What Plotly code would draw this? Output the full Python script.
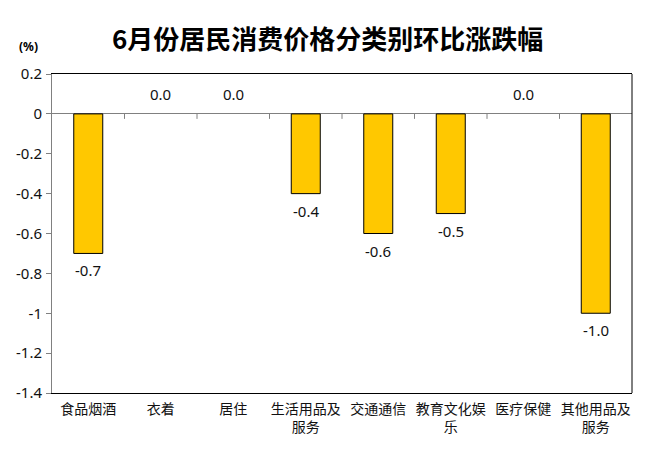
import plotly.graph_objects as go

categories = ["食品烟酒", "衣着", "居住", "生活用品及<br>服务", "交通通信", "教育文化娱<br>乐", "医疗保健", "其他用品及<br>服务"]
values = [-0.7, 0.0, 0.0, -0.4, -0.6, -0.5, 0.0, -1.0]
ytick_vals = [0.2, 0, -0.2, -0.4, -0.6, -0.8, -1.0, -1.2, -1.4]
ytick_text = ["0.2", "0", "-0.2", "-0.4", "-0.6", "-0.8", "-1", "-1.2", "-1.4"]
title_text = "6月份居民消费价格分类别环比涨跌幅"
unit_text = "(%)"

num_font = "Noto Sans, Lato, sans-serif"
cjk_font = "Noto Sans CJK SC"

fig = go.Figure()
fig.add_trace(go.Bar(
    x=list(range(len(categories))), y=values,
    marker=dict(color="#FFC800",
                line=dict(color="#000000", width=[1 if v != 0 else 0 for v in values])),
    hoverinfo="skip",
))

annotations = []
for i, v in enumerate(values):
    if v < 0:
        annotations.append(dict(x=i, y=v, xref="x", yref="y", text=f"{v:.1f}",
                                showarrow=False, yanchor="top", yshift=-5,
                                font=dict(family=num_font, size=15, color="#111")))
    else:
        annotations.append(dict(x=i, y=v, xref="x", yref="y", text=f"{v:.1f}",
                                showarrow=False, yanchor="bottom", yshift=8,
                                font=dict(family=num_font, size=15, color="#111")))
annotations.append(dict(x=0.475, y=1.115, xref="paper", yref="paper", text=f"<b>{title_text}</b>",
                        showarrow=False, xanchor="center", yanchor="middle",
                        font=dict(family=cjk_font, size=26, color="#000")))
annotations.append(dict(x=-0.041, y=1.085, xref="paper", yref="paper", text=f"<b>{unit_text}</b>",
                        showarrow=False, xanchor="center", yanchor="middle",
                        font=dict(family=num_font, size=12, color="#000")))

shapes = []
for b in range(len(categories) - 1):
    shapes.append(dict(type="line", xref="x", yref="y", ysizemode="pixel", yanchor=0,
                       x0=b + 0.5, x1=b + 0.5, y0=0, y1=-5,
                       line=dict(color="#808080", width=1)))
shapes.append(dict(type="line", xref="paper", yref="paper", x0=1, x1=1, y0=0, y1=1,
                   line=dict(color="#000000", width=1)))

fig.update_layout(
    width=650, height=449,
    margin=dict(l=52, r=18, t=74, b=56),
    paper_bgcolor="white", plot_bgcolor="white",
    showlegend=False,
    bargap=0.6,
    annotations=annotations,
    shapes=shapes,
    xaxis=dict(
        tickmode="array", tickvals=list(range(len(categories))), ticktext=categories,
        range=[-0.5, len(categories) - 0.5],
        showline=True, linecolor="#000000", linewidth=1, mirror=True,
        ticks="", showgrid=False, zeroline=False, ticklabelstandoff=3,
        tickfont=dict(family=cjk_font, size=14, color="#111"),
    ),
    yaxis=dict(
        range=[-1.4, 0.2], tickmode="array", tickvals=ytick_vals, ticktext=ytick_text,
        showline=True, linecolor="#808080", linewidth=1,
        ticks="outside", ticklen=5, tickcolor="#808080", ticklabelstandoff=1,
        showgrid=False, zeroline=True, zerolinecolor="#808080", zerolinewidth=1,
        tickfont=dict(family=num_font, size=15, color="#111"),
    ),
)

fig.write_html("out.html")
